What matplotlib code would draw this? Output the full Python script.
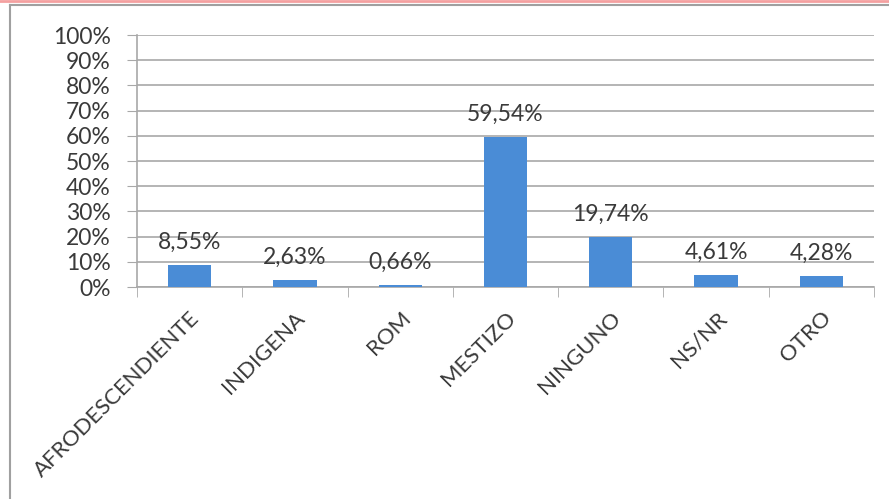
import matplotlib

matplotlib.use("Agg")
import matplotlib.pyplot as plt
from matplotlib.lines import Line2D
import numpy as np

categories = ["AFRODESCENDIENTE", "INDIGENA", "ROM", "MESTIZO", "NINGUNO", "NS/NR", "OTRO"]
values = [8.55, 2.63, 0.66, 59.54, 19.74, 4.61, 4.28]
y_ticks = list(range(0, 101, 10))

BAR = "#4a8cd6"
GRID = "#a8a8a8"
TEXT = "#3a3a3a"

plt.rcParams["font.family"] = ["Lato", "DejaVu Sans"]

fig = plt.figure(figsize=(8.89, 4.99), dpi=100)
ax = fig.add_axes([137 / 889, 1 - 287 / 499, (874 - 137) / 889, (287 - 35) / 499])

x = np.arange(len(categories))
ax.bar(x, values, width=0.41, color=BAR, zorder=3)
for xi, v in zip(x, values):
    lab = f"{v:.2f}%".replace(".", ",")
    ax.annotate(lab, (xi, v), xytext=(0, 9), textcoords="offset points",
                ha="center", va="bottom", fontsize=16.5, color=TEXT)

ax.set_xlim(-0.5, len(categories) - 0.5)
ax.set_ylim(0, 100)
ax.set_yticks(y_ticks, [f"{t}%" for t in y_ticks], fontsize=16.5, color=TEXT)
ax.yaxis.grid(True, color=GRID, lw=1.2, zorder=0)
ax.tick_params(axis="y", length=7, color=GRID, pad=12)

# category labels sit between boundary ticks
ax.set_xticks(x)
ax.set_xticklabels(categories, rotation=45, ha="right", rotation_mode="anchor",
                   fontsize=16, color=TEXT)
ax.tick_params(axis="x", length=0, pad=15)
ax.set_xticks(np.arange(-0.5, len(categories)), minor=True)
ax.tick_params(axis="x", which="minor", length=7, color=GRID)

for side in ["top", "right"]:
    ax.spines[side].set_visible(False)
for side in ["left", "bottom"]:
    ax.spines[side].set_color(GRID)
    ax.spines[side].set_linewidth(1.2)

# chart frame like the spreadsheet border
fig.add_artist(Line2D([0, 1], [1 - 1 / 499, 1 - 1 / 499], color="#f4a0a0", lw=2))
fig.add_artist(Line2D([10 / 889, 1], [1 - 5 / 499, 1 - 5 / 499], color="#a0a0a0", lw=1.5))
fig.add_artist(Line2D([10 / 889, 10 / 889], [0, 1 - 5 / 499], color="#a0a0a0", lw=1.5))

fig.savefig("out.png", dpi=100)
